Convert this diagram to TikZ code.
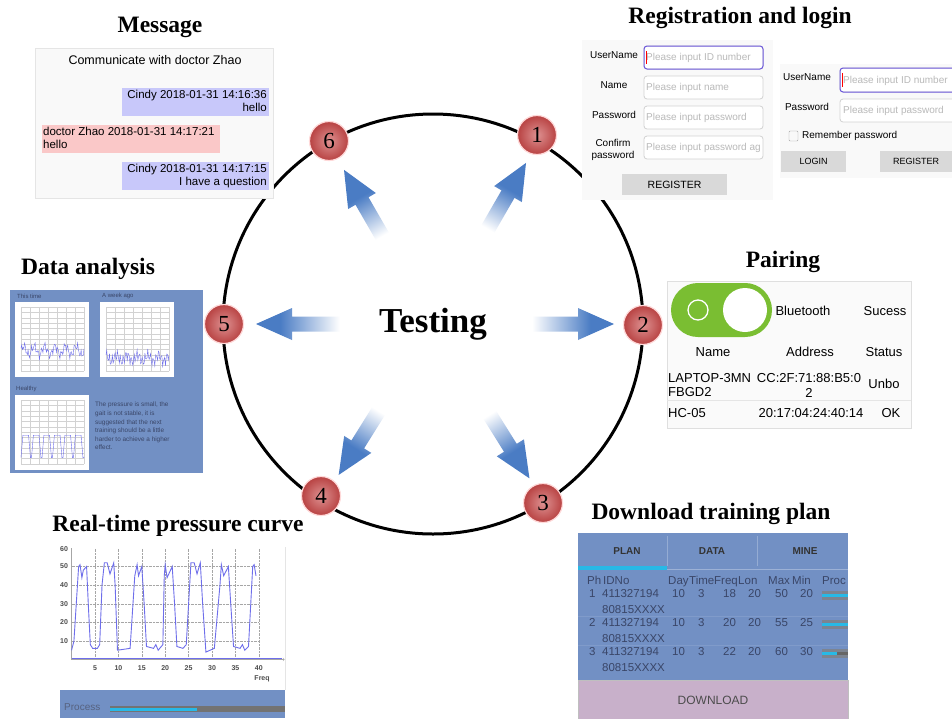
\documentclass[tikz,border=0pt]{standalone}
\usepackage{fontspec}
\setmainfont{Liberation Serif}
\newfontfamily\uisans{Liberation Sans}
\usetikzlibrary{positioning}
\usepackage{xcolor}

\definecolor{panelblue}{RGB}{114,144,196}
\definecolor{arrowblue}{RGB}{74,124,196}
\definecolor{ballred}{RGB}{200,72,72}
\definecolor{toggreen}{RGB}{122,190,50}
\definecolor{barcyan}{RGB}{40,185,230}
\definecolor{bubblue}{RGB}{200,200,250}
\definecolor{bubpink}{RGB}{250,200,200}
\definecolor{lilac}{RGB}{200,176,202}
\definecolor{inktext}{RGB}{58,70,104}
\definecolor{chartline}{RGB}{110,110,235}
\definecolor{focusline}{RGB}{110,90,220}
\pgfdeclareverticalshading{fadeblue}{100bp}{color(0bp)=(white); color(30bp)=(white); color(62bp)=(arrowblue); color(100bp)=(arrowblue)}

\tikzset{
  ttl/.style={font=\bfseries\fontsize{23.5}{25}\selectfont, inner sep=0pt},
  ui/.style={/utils/exec={\pgfmathsetmacro\uibs{#1*1.15}\pgfmathsetmacro\uith{#1*0.72}\pgfmathsetmacro\uitd{#1*0.21}},
    font=\uisans\fontsize{#1}{\uibs}\selectfont, inner sep=0pt},
  ui/.default=10,
  oneline/.style={text height=\uith pt, text depth=\uitd pt},
  numball/.style={circle, minimum size=39pt, inner sep=0pt, draw=red!15!white, line width=1.2pt,
    shading=radial, inner color=ballred!60!white, outer color=ballred!92!black, font=\fontsize{23}{23}\selectfont},
  inputbox/.style={draw=gray!35, rounded corners=3pt, fill=white, line width=0.8pt},
  btn/.style={fill=gray!30},
  placeholder/.style={ui=10, oneline, text=gray!55, anchor=west},
  tabtext/.style={font=\uisans\bfseries\fontsize{10}{12}\selectfont, inner sep=0pt, text=black!80},
  cell/.style={ui=11.5, oneline, text=inktext, anchor=west},
  ticklab/.style={font=\uisans\bfseries\fontsize{7}{8}\selectfont, inner sep=0pt, text=black!70},
}

\begin{document}
\begin{tikzpicture}[x=1pt, y=-1pt]
\useasboundingbox[fill=white] (0,0) rectangle (952,718);

% ring and arrows
\coordinate (c) at (433,324);
\draw[line width=3pt] (c) circle (210);
\foreach \ang/\ra/\rb in {0/90/181, 60/96/186, 120/88/178, 180/84/177, 238/89/178, 302/93/182} {
  \pgfmathsetmacro\sa{\ang-90}
  \begin{scope}[shift={(c)}, rotate=\ang]
    \shade[shading=fadeblue, shading angle=\sa] (\ra,-7.5) -- (\rb-36,-7.5) -- (\rb-36,-16) -- (\rb,0)
      -- (\rb-36,16) -- (\rb-36,7.5) -- (\ra,7.5) -- cycle;
  \end{scope}
}
\node[font=\bfseries\fontsize{35}{35}\selectfont, inner sep=0pt] (testing) at (c) {Testing};

\node[numball] (n1) at (537,135) {1};
\node[numball] (n2) at (643,325) {2};
\node[numball] (n3) at (543,503) {3};
\node[numball] (n4) at (321,496) {4};
\node[numball] (n5) at (224,324) {5};
\node[numball] (n6) at (329,141) {6};

% message
\node[ttl] (msgtitle) at (160,27) {Message};
\draw[gray!20, fill=gray!5] (35,48) rectangle (273,198);
\node[ui=12.5] (msghead) at (155,60) {Communicate with doctor Zhao};
\fill[bubblue] (122,88) rectangle (269,116);
\node[ui=11.5, align=right, anchor=north east] (msg1) at (267,90) {Cindy 2018-01-31 14:16:36\\hello};
\fill[bubpink] (42,125) rectangle (220,153);
\node[ui=11.5, align=left, anchor=north west] (msg2) at (43,127) {doctor Zhao 2018-01-31 14:17:21\\hello};
\fill[bubblue] (122,162) rectangle (269,190);
\node[ui=11.5, align=right, anchor=north east] (msg3) at (267,164) {Cindy 2018-01-31 14:17:15\\I have a question};

% registration and login
\node[ttl] (regtitle) at (740,18) {Registration and login};
\fill[gray!5] (582,40) rectangle (773,200);
\foreach \yy/\txt in {46/Please input ID number, 76/Please input name, 106/Please input password, 136/Please input password ag} {
  \draw[inputbox] (644,\yy) rectangle (763,\yy+23);
  \node[placeholder] (reg\yy) at (646,\yy+12) {\txt};
}
\draw[focusline, rounded corners=3pt, line width=1pt] (644,46) rectangle (763,69);
\draw[red, line width=0.8pt] (646,51) -- (646,64);
\node[ui=10] (lbuser) at (614,55) {UserName};
\node[ui=10] (lbname) at (614,85) {Name};
\node[ui=10] (lbpass) at (614,115) {Password};
\node[ui=10, align=center] (lbconf) at (613,150) {Confirm\\password};
\fill[btn] (622,174) rectangle (727,195);
\node[ui=10.5] (regbtn) at (674.5,185) {REGISTER};

\fill[gray!5] (780,64) rectangle (952,178);
\draw[inputbox] (840,68) rectangle (966,92);
\draw[focusline, rounded corners=3pt, line width=1pt] (840,68) rectangle (966,92);
\draw[red, line width=0.8pt] (842,73) -- (842,87);
\draw[inputbox] (840,99) rectangle (966,122);
\node[placeholder] (loguser) at (843,80.5) {Please input ID number};
\node[placeholder] (logpass) at (843,111) {Please input password};
\node[ui=10] (lbuser2) at (807,77) {UserName};
\node[ui=10] (lbpass2) at (807,107) {Password};
\draw[gray!70, rounded corners=1pt] (789,131) rectangle (798,141);
\node[ui=10, anchor=west] (remember) at (802,136) {Remember password};
\fill[btn] (781,151) rectangle (846,172);
\node[ui=9] (loginbtn) at (813.5,161.5) {LOGIN};
\fill[btn] (880,151) rectangle (958,172);
\node[ui=9] (regbtn2) at (916,161.5) {REGISTER};

% pairing
\node[ttl] (pairtitle) at (783,262) {Pairing};
\draw[gray!25, fill=gray!4] (667,281) rectangle (911,428);
\fill[toggreen, rounded corners=26.9pt] (671,283) rectangle (772,337);
\draw[white, line width=1.3pt] (698,310) circle (10);
\fill[white] (745,310) circle (22);
\node[ui=13] (bt) at (803,311) {Bluetooth};
\node[ui=13] (suc) at (885,311) {Sucess};
\node[ui=13, oneline] (hname) at (713,353) {Name};
\node[ui=13, oneline] (haddr) at (810,353) {Address};
\node[ui=13, oneline] (hstat) at (884,353) {Status};
\node[ui=13, anchor=west, align=left] (dev1) at (668,385) {LAPTOP-3MN\\FBGD2};
\node[ui=13, align=center] (addr1) at (809,385) {CC:2F:71:88:B5:0\\2};
\node[ui=13] (st1) at (884,384) {Unbo};
\draw[gray!20] (667,400) -- (911,400);
\node[ui=13, oneline, anchor=west] (dev2) at (668,414) {HC-05};
\node[ui=13, oneline] (addr2) at (811,414) {20:17:04:24:40:14};
\node[ui=13, oneline] (st2) at (891,414) {OK};

% download training plan
\node[ttl] (dltitle) at (711,514) {Download training plan};
\fill[panelblue] (578,533) rectangle (848,680);
\draw[white!25!panelblue] (667,536) -- (667,566);
\draw[white!25!panelblue] (757,536) -- (757,566);
\draw[white!30!panelblue] (578,569) -- (848,569);
\fill[barcyan] (578,566) rectangle (667,570);
\node[tabtext] (tabplan) at (627,551) {PLAN};
\node[tabtext] (tabdata) at (712,551) {DATA};
\node[tabtext] (tabmine) at (805,551) {MINE};
\foreach \xx/\txt in {587/Ph, 603/IDNo, 668/Day, 689/Time, 714/Freq, 738/Lon, 768/Max, 792/Min, 822/Proc} {
  \node[cell] (hd\txt) at (\xx,582) {\txt};
}
\foreach \yy/\k/\fr/\mx/\mn in {595/1/18/50/20, 624/2/20/55/25, 653/3/22/60/30} {
  \node[cell] (ph\k) at (589,\yy) {\k};
  \node[cell] (id\k) at (602,\yy) {411327194};
  \node[cell] (idb\k) at (602,\yy+16) {80815XXXX};
  \node[cell] (day\k) at (672,\yy) {10};
  \node[cell] (tim\k) at (698,\yy) {3};
  \node[cell] (frq\k) at (723,\yy) {\fr};
  \node[cell] (lon\k) at (748,\yy) {20};
  \node[cell] (max\k) at (775,\yy) {\mx};
  \node[cell] (min\k) at (800,\yy) {\mn};
  \fill[gray!75!panelblue] (822,\yy-4.5) rectangle (848,\yy+4.5);
}
\fill[barcyan] (822,594) rectangle (848,596.5);
\fill[barcyan] (822,623) rectangle (848,625.5);
\fill[barcyan] (822,652) rectangle (837,654.5);
\fill[black!60] (837,652) rectangle (848,654.5);
\draw[white!10!panelblue] (578,616.5) -- (848,616.5);
\draw[white!10!panelblue] (578,645.5) -- (848,645.5);
\draw[gray!50, fill=lilac] (578,680) rectangle (848,722);
\node[ui=12, text=black!70] (dlbtn) at (713,700) {DOWNLOAD};

% real-time pressure curve
\node[ttl] (rttitle) at (178,526) {Real-time pressure curve};
\fill[white] (60,547) rectangle (285,690);
\draw[gray!20] (285,547) -- (285,690);
\begin{scope}[shift={(71.6,659.5)}, x=4.68pt, y=1.86pt]
  \foreach \t in {5,10,...,40} {
    \draw[gray!70, densely dotted] (\t,0) -- (\t,60);
    \node[ticklab] (xt\t) at (\t,-4.6) {\t};
  }
  \foreach \p in {10,20,...,50} {
    \draw[gray!70, densely dotted] (0,\p) -- (40,\p);
    \node[ticklab] (yt\p) at (-1.6,\p) {\p};
  }
  \node[ticklab] (yt60) at (-1.6,59.4) {60};
  \node[ticklab] (freq) at (40.7,-10.5) {Freq};
  \draw[gray!70] (0,0) -- (0,60);
  \draw[gray!70, ->] (0,0) -- (45.5,0);
  \draw[chartline, line width=1.3pt] (0,0.4) -- (45,0.4);
  \draw[chartline, line width=0.9pt] plot coordinates {(0,5) (0.5,10) (1.5,50) (1.8,51) (2.2,44) (2.5,48) (3.2,50)
    (3.6,28) (4,8) (4.5,6) (5.5,6) (6,8) (6.5,40) (7,52) (7.6,52) (8.2,46) (9,52) (9.3,40) (9.8,5) (12.5,6)
    (13.5,45) (14,51) (14.3,45) (15,50) (15.5,30) (16,7) (17.5,6) (18,8) (18.5,5) (19.5,8) (19.8,45) (20,51)
    (20.4,44) (21.5,50) (22,30) (22.5,7) (23.8,6) (24.5,8) (25.5,52) (26.2,52) (26.8,46) (27.5,52) (28,30)
    (28.7,4) (30.5,6) (31.7,40) (32,51) (32.5,45) (33.5,50) (34,30) (34.6,7) (36,6) (36.5,8) (37,5) (37.8,7)
    (38.7,50) (39,51) (39.4,45)};
\end{scope}
\fill[panelblue] (60,690) rectangle (285,718);
\node[ui=10, oneline, text=inktext!85!white, anchor=west] (process) at (64,708) {Process};
\fill[black!55] (110,706) rectangle (285,712);
\fill[barcyan] (110,707.5) rectangle (197,710.5);

% data analysis
\node[ttl] (datitle) at (88,269) {Data analysis};
\fill[panelblue] (10,290) rectangle (203,473);
\foreach \cx/\cy/\nm in {15/302/a, 100/302/b, 15/395/c} {
  \fill[white] (\cx,\cy) rectangle (\cx+74,\cy+75);
  \foreach \k in {0,...,7} \draw[gray!35, line width=0.3pt] (\cx+6+\k*9,\cy+5) -- (\cx+6+\k*9,\cy+69);
  \foreach \k in {0,...,12} \draw[gray!35, line width=0.3pt] (\cx+6,\cy+5+\k*5.33) -- (\cx+69,\cy+5+\k*5.33);
  \coordinate (org\nm) at (\cx+6,\cy+69);
}
\begin{scope}[shift={(orga)}, x=63pt, y=64pt]
  \draw[chartline, line width=0.4pt] plot[domain=0:1, samples=90]
    (\x, {0.32+0.07*sin(6*360*\x)+0.05*sin(19*360*\x+40)+0.03*sin(37*360*\x)});
\end{scope}
\begin{scope}[shift={(orgb)}, x=63pt, y=64pt]
  \draw[chartline, line width=0.4pt] plot[domain=0:1, samples=90]
    (\x, {0.2+0.05*sin(6*360*\x+90)+0.07*sin(23*360*\x)+0.03*sin(41*360*\x)});
\end{scope}
\begin{scope}[shift={(orgc)}, x=63pt, y=64pt]
  \foreach \k in {0,...,5}
    \draw[chartline, line width=0.4pt] (\k/6,0.1) -- (\k/6+0.03,0.45) -- (\k/6+0.12,0.45) -- (\k/6+0.15,0.1) -- (\k/6+0.1667,0.1);
\end{scope}
\node[ui=6, text=inktext, anchor=west] (thistime) at (17,296) {This time};
\node[ui=6, text=inktext, anchor=west] (weekago) at (102,296) {A week ago};
\node[ui=6, text=inktext, anchor=west] (healthy) at (16,389) {Healthy};
\node[ui=6.4, text=inktext, anchor=north west, align=left, font=\uisans\fontsize{6.4}{8.6}\selectfont] (advice) at (95,402)
  {The pressure is small, the\\gait is not stable, it is\\suggested that the next\\training should be a little\\harder to achieve a higher\\effect.};
\end{tikzpicture}
\end{document}
